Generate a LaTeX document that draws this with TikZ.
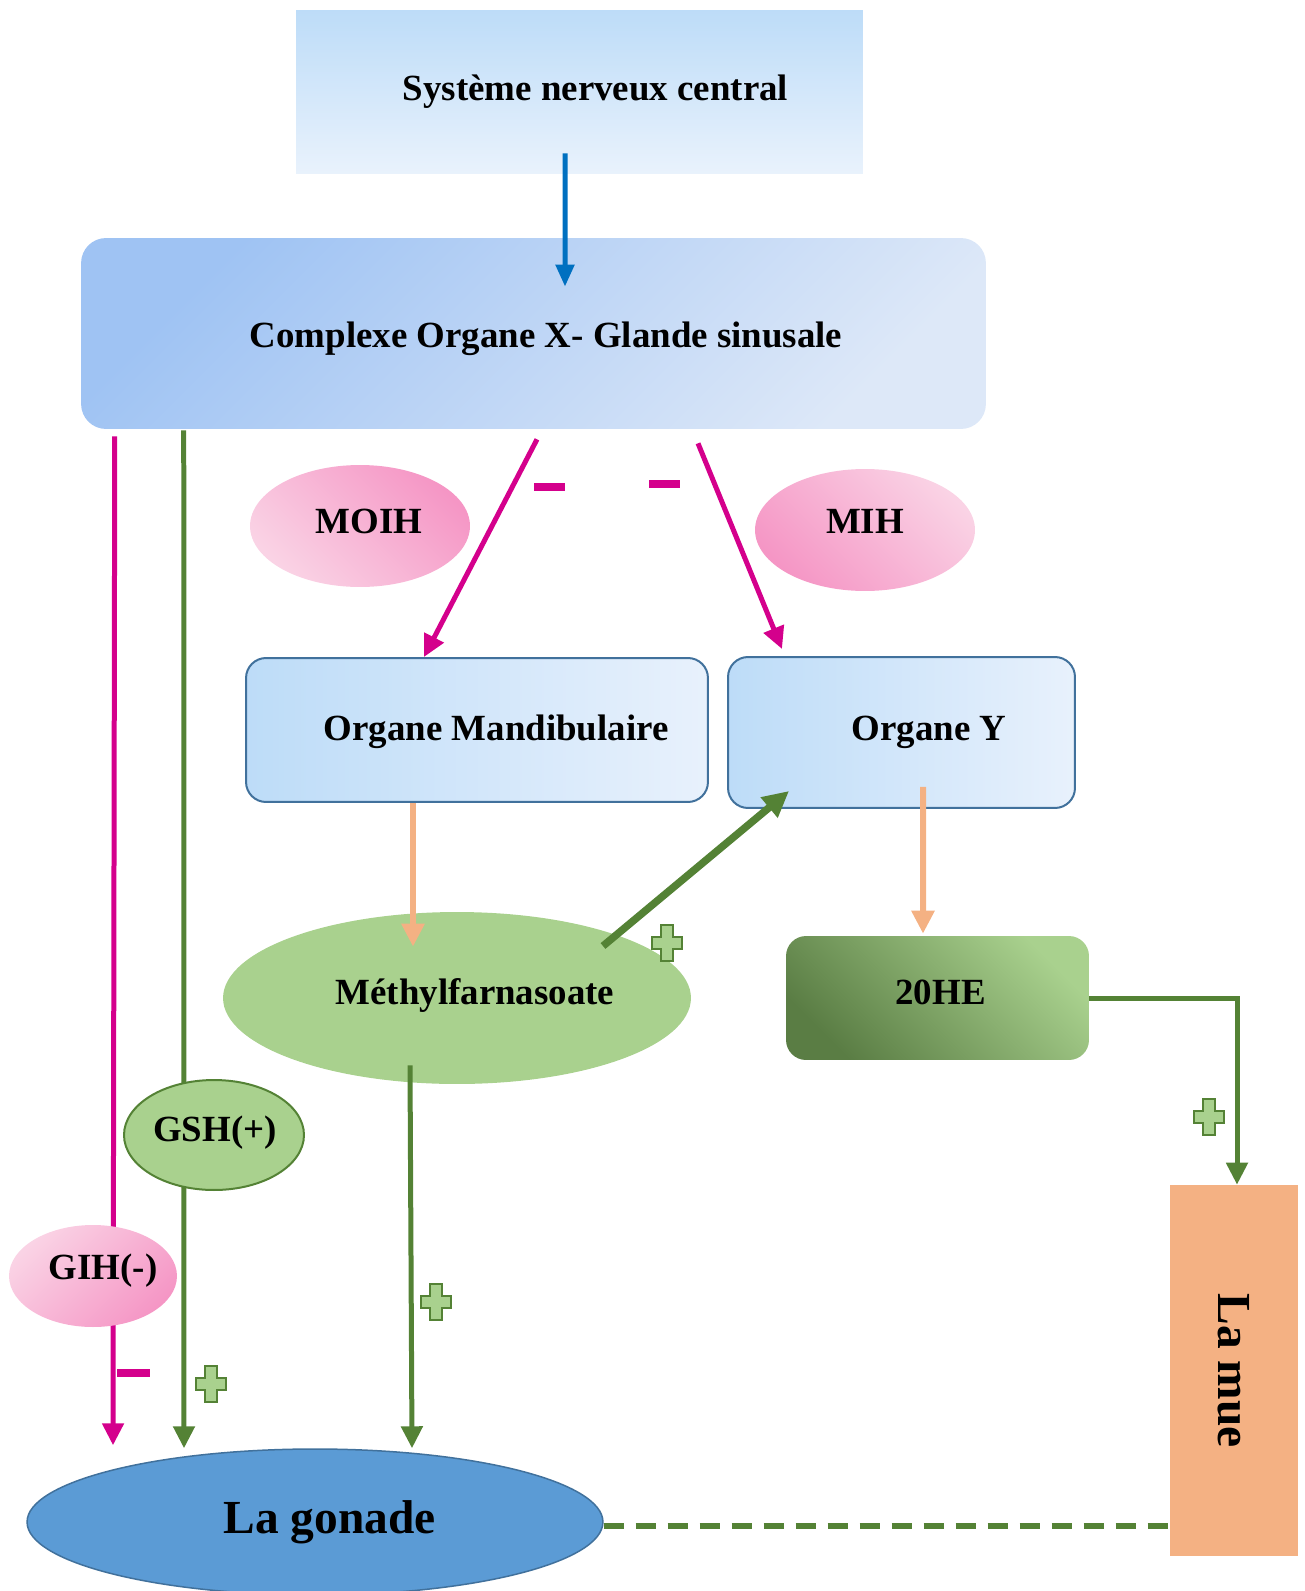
\documentclass[tikz,border=0pt]{standalone}
\usepackage{fontspec}
\usepackage{graphicx}
\setmainfont{Liberation Serif}
\usetikzlibrary{arrows.meta,calc,shapes.geometric}
\pgfdeclarelayer{bg}
\pgfsetlayers{bg,main}
\definecolor{sncT}{HTML}{BDDCF8}
\definecolor{sncB}{HTML}{E9F2FC}
\definecolor{cxD}{HTML}{9FC3F3}
\definecolor{cxL}{HTML}{DDE8F8}
\definecolor{bxL}{HTML}{BDDCF8}
\definecolor{bxR}{HTML}{E8F1FC}
\definecolor{bxBorder}{HTML}{41719C}
\definecolor{pinkD}{HTML}{F596C5}
\definecolor{pinkL}{HTML}{FAD3E5}
\definecolor{grLight}{HTML}{A9D18E}
\definecolor{grDark}{HTML}{548235}
\definecolor{heDark}{HTML}{5A7D44}
\definecolor{mueC}{HTML}{F4B183}
\definecolor{gonC}{HTML}{5B9BD5}
\definecolor{magC}{HTML}{D4008C}
\definecolor{blueC}{HTML}{0070C0}
\definecolor{orC}{HTML}{F4B183}
\newcommand{\mvtxt}[3]{\hspace*{#1}\raisebox{#2}[\height][\depth]{#3}}
\begin{document}
\begin{tikzpicture}[x=0.02cm,y=-0.02cm,
  txt/.style={font=\fontsize{21}{25}\selectfont\bfseries, text=black},
  bigtxt/.style={font=\fontsize{27}{31}\selectfont\bfseries, text=black},
  pinkell/.style={ellipse, inner sep=0pt, txt},
  blueBox/.style={rectangle, rounded corners=0.4cm, draw=bxBorder, line width=0.04cm,
     left color=bxL, right color=bxR, inner sep=0pt, txt},
  magline/.style={draw=magC, line width=0.1cm, -{Triangle[length=0.44cm,width=0.42cm]}},
  grline/.style={draw=grDark, line width=0.1cm, -{Triangle[length=0.44cm,width=0.42cm]}},
  orline/.style={draw=orC, line width=0.12cm, -{Triangle[length=0.46cm,width=0.44cm]}},
  minusbar/.style={fill=magC},
  pics/plussign/.style={code={
    \draw[draw=grDark, fill=grLight, line width=0.04cm]
      (-6,-18)--(6,-18)--(6,-6)--(15,-6)--(15,6)--(6,6)--(6,18)--(-6,18)--(-6,6)--(-15,6)--(-15,-6)--(-6,-6)--cycle;
  }}
]
\useasboundingbox (0,0) rectangle (1304,1591);

% nodes
\node[rectangle, top color=sncT, bottom color=sncB, minimum width=11.34cm, minimum height=3.28cm, inner sep=0pt, txt]
  (snc) at (579.5,92) {\hspace*{0.64cm}Système nerveux central};
\node[rectangle, rounded corners=0.5cm, top color=cxD, bottom color=cxL, shading angle=45,
  minimum width=18.1cm, minimum height=3.82cm, inner sep=0pt, txt]
  (complex) at (533.5,333.5) {\mvtxt{0.5cm}{-0.1cm}{Complexe Organe X- Glande sinusale}};
\node[pinkell, top color=pinkD, bottom color=pinkL, shading angle=-45,
  minimum width=4.4cm, minimum height=2.44cm] (moih) at (360,526) {\makebox[0pt]{\mvtxt{0.36cm}{0.1cm}{MOIH}}};
\node[pinkell, top color=pinkL, bottom color=pinkD, shading angle=-45,
  minimum width=4.4cm, minimum height=2.44cm] (mih) at (865,530) {\makebox[0pt]{\mvtxt{0cm}{0.18cm}{MIH}}};
\node[blueBox, minimum width=9.24cm, minimum height=2.88cm] (om) at (477,730)
  {\mvtxt{0.76cm}{-0.04cm}{Organe Mandibulaire}};
\node[blueBox, minimum width=6.94cm, minimum height=3.02cm] (oy) at (901.5,732.5)
  {\hspace*{1.1cm}Organe Y};
\node[ellipse, fill=grLight, minimum width=9.36cm, minimum height=3.44cm, inner sep=0pt, txt]
  (mf) at (457,998) {\makebox[0pt]{\mvtxt{0.72cm}{0.06cm}{Méthylfarnasoate}}};
\node[rectangle, rounded corners=0.4cm, top color=grLight, bottom color=heDark, shading angle=-45,
  minimum width=6.06cm, minimum height=2.48cm, inner sep=0pt, txt]
  (he) at (937.5,998) {\mvtxt{0.12cm}{0.12cm}{20HE}};
\node[rectangle, fill=mueC, minimum width=2.56cm, minimum height=7.42cm, inner sep=0pt, bigtxt]
  (mue) at (1234,1370.5) {\rotatebox{-90}{La mue}};
\node[ellipse, fill=gonC, draw=bxBorder, line width=0.03cm, minimum width=11.52cm, minimum height=2.92cm,
  inner sep=0pt, bigtxt] (gonade) at (315,1522) {\makebox[0pt]{\hspace*{0.58cm}La gonade}};

% connectors
\draw[draw=blueC, line width=0.1cm, -{Triangle[length=0.44cm,width=0.36cm]}]
  ($(snc.south)+(-14.5,-21)$) -- ($(complex.north)+(31.5,49)$);
\begin{pgfonlayer}{bg}
\draw[magline] ($(complex.south west)+(34,7)$) -- ($(gonade.north)+(-202,-3)$);
\draw[grline] ($(complex.south west)+(103,1)$) -- ($(gonade.north)+(-131,0)$);
\end{pgfonlayer}
\node[ellipse, fill=grLight, draw=grDark, line width=0.04cm, minimum width=3.6cm, minimum height=2.2cm,
  inner sep=0pt, txt] (gsh) at (214,1135) {\makebox[0pt]{\mvtxt{0.04cm}{0.04cm}{GSH(+)}}};
\node[pinkell, top color=pinkL, bottom color=pinkD, shading angle=45,
  minimum width=3.36cm, minimum height=2.04cm] (gih) at (93,1276) {\makebox[0pt]{\mvtxt{0.4cm}{0.1cm}{GIH(-)}}};

\draw[magline] ($(complex.south)+(3.5,10)$) -- ($(om.north)+(-53,0)$);
\draw[magline] ($(complex.south)+(164.5,14)$) -- ($(oy.north)+(-119.5,-7)$);
\draw[orline] ($(om.south)+(-64,0)$) -- ($(mf.north)+(-44,35)$);
\draw[orline] ($(oy.south)+(21.5,-22)$) -- ($(he.north)+(-14.5,-2)$);
\draw[draw=grDark, line width=0.15cm, -{Triangle[length=0.52cm,width=0.5cm]}]
  ($(mf.center)+(146,-52)$) -- ($(oy.south west)+(62,-18)$);
\draw[grline] (he.east) -| ($(mue.north)+(3,0)$);
\draw[grline] ($(mf.south)+(-47,-19)$) -- ($(gonade.north)+(97,0)$);
\draw[draw=grDark, line width=0.12cm, dash pattern=on 0.4cm off 0.24cm]
  ($(gonade.east)+(0,4)$) -- ($(gonade.east -| mue.west)+(0,4)$);

% signs
\fill[minusbar] (534,483) rectangle (565,491);
\fill[minusbar] (649,480) rectangle (680,488);
\fill[minusbar] (117,1369) rectangle (150,1377);
\pic at (667,943) {plussign};
\pic at (1209,1117) {plussign};
\pic at (436,1302) {plussign};
\pic at (211,1384) {plussign};
\end{tikzpicture}
\end{document}
